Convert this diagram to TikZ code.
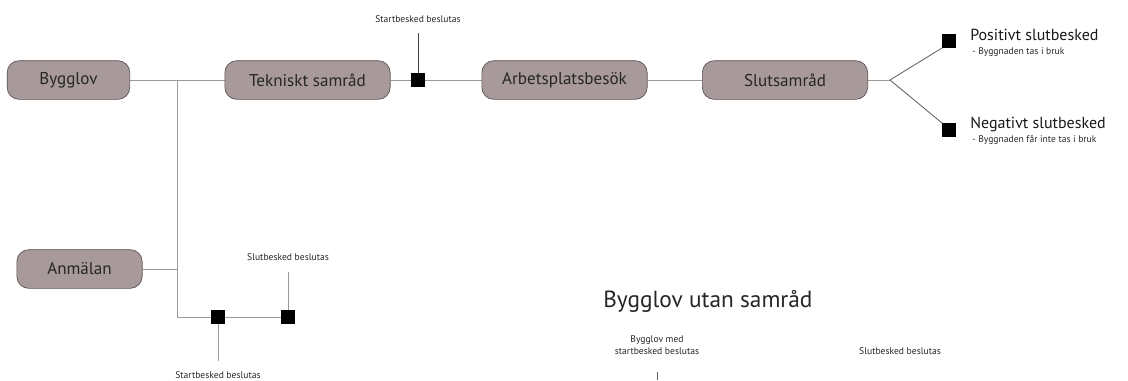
\documentclass[tikz,border=0pt]{standalone}
\usepackage{fontspec}
\setmainfont{PT Sans}
\usetikzlibrary{backgrounds}
\definecolor{boxfill}{HTML}{A89A9A}
\definecolor{boxline}{HTML}{5A5050}
\definecolor{conn}{HTML}{9A9A9A}
\begin{document}
\begin{tikzpicture}[x=0.75pt,y=-0.75pt,
  stepbox/.style={draw=boxline,fill=boxfill,rounded corners=9pt,line width=0.5pt,
     minimum height=29pt,inner sep=0pt,font=\fontsize{12.8}{14}\selectfont,text=black!85},
  sq/.style={fill=black,minimum size=10pt,inner sep=0pt},
  conline/.style={draw=conn,line width=0.75pt},
  small/.style={font=\fontsize{7.2}{8.5}\selectfont,text=black!85,inner sep=0pt},
  mid/.style={font=\fontsize{12}{13}\selectfont,text=black!90,inner sep=0pt,anchor=base west},
  sub/.style={font=\fontsize{7.2}{8.5}\selectfont,text=black!85,inner sep=0pt,anchor=base west}]
\useasboundingbox (0,0) rectangle (1128,380);
% boxes
\node[stepbox,minimum width=92pt] (byg) at (68.5,80) {Bygglov};
\node[stepbox,minimum width=124pt] (tek) at (307.5,80) {Tekniskt samråd};
\node[stepbox,minimum width=124pt] (arb) at (564.5,80) {Arbetsplatsbesök};
\node[stepbox,minimum width=124pt] (slu) at (785,80) {Slutsamråd};
\node[stepbox,minimum width=94pt] (anm) at (79.5,269) {Anmälan};
% squares
\node[sq] (s1) at (418,80) {};
\node[sq] (sp) at (949,41) {};
\node[sq] (sn) at (949,130) {};
\node[sq] (s2) at (218,317) {};
\node[sq] (s3) at (288,317) {};
% coordinates
\coordinate (j1) at (177,80);
\coordinate (j2) at (177,269);
\coordinate (j3) at (177,317);
\coordinate (br) at (890,80);
\coordinate (t1) at (418,33);
\coordinate (t2) at (218,361);
\coordinate (t3) at (288,272);
% connectors
\begin{scope}[on background layer]
\draw[conline] (byg.east) -- (tek.west);
\draw[conline] (j1) -- (j3) -- (s3.west);
\draw[conline] (anm.east) -- (j2);
\draw[conline] (tek.east) -- (s1.west);
\draw[conline] (s1.east) -- (arb.west);
\draw[conline] (arb.east) -- (slu.west);
\draw[conline] (slu.east) -- (br);
\draw[draw=black!65,line width=0.6pt] (br) -- (sp.south west);
\draw[draw=black!65,line width=0.6pt] (br) -- (sn.north west);
\draw[draw=black!75,line width=0.6pt] (s1.north) -- (t1);
\draw[conline] (s2.south) -- (t2);
\draw[conline] (s3.north) -- (t3);
\end{scope}
% labels
\node[small] (l1) at (418,19) {Startbesked beslutas};
\node[small] (l2) at (218,375) {Startbesked beslutas};
\node[small] (l3) at (288,257) {Slutbesked beslutas};
\node[mid] (pos) at (970,40) {Positivt slutbesked};
\node[sub] (pos2) at (972,54) {- Byggnaden tas i bruk};
\node[mid] (neg) at (970,128) {Negativt slutbesked};
\node[sub] (neg2) at (972,142) {- Byggnaden får inte tas i bruk};
\node[font=\fontsize{17.5}{20}\selectfont,text=black!85,inner sep=0pt,anchor=base west] (title) at (603,307) {Bygglov utan samråd};
\node[small,align=center] (bm) at (657,345) {Bygglov med\\startbesked beslutas};
\node[small] (sb) at (900,351) {Slutbesked beslutas};
\coordinate (bt) at (657,372);
\coordinate (bb) at (657,380);
\draw[draw=black!60,line width=0.5pt] (bt) -- (bb);
\end{tikzpicture}
\end{document}
